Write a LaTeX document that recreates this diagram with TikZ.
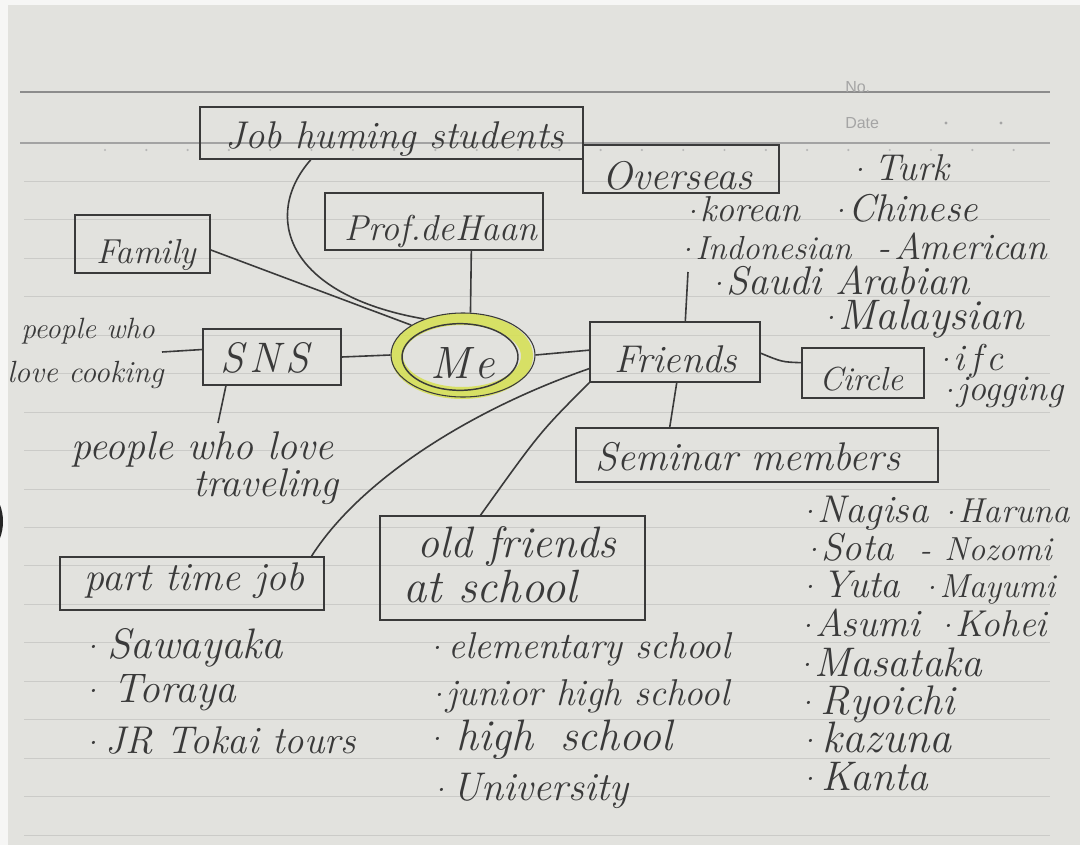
\documentclass[tikz,border=0pt]{standalone}
\usepackage{fontspec}
\setsansfont{Liberation Sans}
\usetikzlibrary{fit,calc,shapes.geometric}
\definecolor{paper}{RGB}{226,226,222}
\definecolor{edgewhite}{RGB}{246,246,245}
\definecolor{rulelight}{RGB}{203,203,200}
\definecolor{ruledark}{RGB}{140,140,140}
\definecolor{pencil}{RGB}{58,58,58}
\definecolor{marker}{RGB}{214,224,88}
\definecolor{printgrey}{RGB}{165,165,165}
\newcommand\bul{\raisebox{0.22em}{\fontsize{24}{24}\selectfont .}\kern2pt}
\begin{document}
\begin{tikzpicture}[x=0.75pt,y=-0.75pt,
  box/.style={draw=pencil,line width=1.2pt,rectangle,inner sep=0pt},
  hand/.style={text=pencil,inner sep=0pt,anchor=base west,font=\fontsize{#1}{#1}\selectfont\itshape},
  hand/.default=29,
  link/.style={draw=pencil,line width=1.2pt},
  printed/.style={text=printgrey,inner sep=0pt,anchor=base west,font=\sffamily\fontsize{12}{12}\selectfont}]
\useasboundingbox (0,0) rectangle (1080,845);
% paper
\fill[edgewhite] (0,0) rectangle (1080,845);
\fill[paper] (8,5) rectangle (1080,845);
\fill[black!85] (0,505) .. controls (4,515) and (4,528) .. (0,538) -- cycle;
\draw[ruledark,line width=0.9pt] (20,92) -- (1050,92);
\draw[ruledark!80,line width=0.8pt] (20,143) -- (1050,143);
\foreach \k in {1,...,18} \draw[rulelight,line width=0.7pt] (24,143+38.45*\k) -- (1050,143+38.45*\k);
\foreach \k in {0,...,22} \fill[printgrey!80] (105+41.3*\k,150) circle (0.9pt);
\node[printed] (no) at (845,93) {No.};
\node[printed] (date) at (845,129) {Date};
\fill[printgrey] (946,123) circle (1.2pt);
\fill[printgrey] (1001,123) circle (1.2pt);

% boxes
\node[box,fit={(200,107)(583,159)}] (job) {};
\node[box,fit={(325,193)(543,250)}] (prof) {};
\node[box,fit={(75,215)(210,273)}] (family) {};
\node[box,fit={(583,145)(779,193)}] (overseas) {};
\node[box,fit={(203,329)(341,385)}] (sns) {};
\node[box,fit={(590,322)(760,382)}] (friends) {};
\node[box,fit={(802,348)(924,398)}] (circle) {};
\node[box,fit={(576,428)(938,482)}] (seminar) {};
\node[box,fit={(380,516)(645,620)}] (old) {};
\node[box,fit={(60,557)(324,610)}] (part) {};

% Me
\draw[marker,line width=9pt,opacity=.9] (462,356) ellipse [x radius=48.75pt,y radius=27.75pt];
\node[ellipse,draw=pencil,line width=0.8pt,minimum width=108pt,minimum height=63pt,inner sep=0pt] (me) at (463,355) {};
\draw[pencil,line width=1.1pt] (460,357) ellipse [x radius=43.5pt,y radius=25pt];
\node[hand=34,anchor=base] (met) at (463,378) {M\kern3pt e};

% box texts
\node[hand] (jobt) at (225,148) {Job huming students};
\node[hand=27] (proft) at (344,240) {Prof.deHaan};
\node[hand=26] (familyt) at (96,263) {Family};
\node[hand=30] (overseast) at (602,189) {Overseas};
\node[hand=32] (snst) at (220,372) {S\kern4pt N\kern4pt S};
\node[hand] (friendst) at (614,372) {Friends};
\node[hand=25] (circlet) at (819,390) {Circle};
\node[hand=30] (seminart) at (595,470) {Seminar members};
\node[hand=33] (old1) at (417,557) {old friends};
\node[hand=35] (old2) at (403,602) {at school};
\node[hand=30] (partt) at (84,590) {part time job};

% overseas list
\node[hand=28] (turk) at (855,180) {\bul\kern5pt Turk};
\node[hand=27] (korean) at (688,221) {\bul korean};
\node[hand] (chinese) at (836,221) {\bul Chinese};
\node[hand=25] (indonesian) at (683,259) {\bul Indonesian};
\node[hand=28] (american) at (877,259) {-\kern3pt American};
\node[hand=30] (saudi) at (714,294) {\bul Saudi Arabian};
\node[hand=32] (malaysian) at (826,329) {\bul Malaysian};

% circle list
\node[hand=28] (ifc) at (941,370) {\bul i\kern4pt f\kern4pt c};
\node[hand=27] (jogging) at (945,400) {\bul jogging};

% SNS texts
\node[hand=22] (cook1) at (21,338) {people who};
\node[hand=23] (cook2) at (7,382) {love cooking};
\node[hand=30] (trav1) at (71,459) {people who love};
\node[hand=30] (trav2) at (193,496) {traveling};

% part time list
\node[hand=32] (sawayaka) at (88,658) {\bul\kern5pt Sawayaka};
\node[hand=31] (toraya) at (88,702) {\bul\kern10pt Toraya};
\node[hand] (jr) at (88,753) {\bul\kern4pt JR Tokai tours};

% school list
\node[hand=28] (elem) at (432,658) {\bul\kern3pt elementary school};
\node[hand=28] (junior) at (434,705) {\bul junior high school};
\node[hand=33] (high) at (432,750) {\bul\kern9pt high\hspace{20pt}school};
\node[hand=30] (univ) at (436,800) {\bul\kern3pt University};

% seminar list
\node[hand] (nagisa) at (805,522) {\bul Nagisa};
\node[hand=26] (haruna) at (946,522) {\bul Haruna};
\node[hand] (sota) at (809,560) {\bul Sota};
\node[hand=25] (nozomi) at (919,560) {-\kern10pt Nozomi};
\node[hand] (yuta) at (805,597) {\bul\kern4pt Yuta};
\node[hand=25] (mayumi) at (927,597) {\bul Mayumi};
\node[hand] (asumi) at (803,636) {\bul Asumi};
\node[hand=28] (kohei) at (943,636) {\bul Kohei};
\node[hand=31] (masataka) at (802,676) {\bul Masataka};
\node[hand=31] (ryoichi) at (803,714) {\bul\kern4pt Ryoichi};
\node[hand=33] (kazuna) at (805,752) {\bul\kern4pt kazuna};
\node[hand=31] (kanta) at (805,790) {\bul\kern3pt Kanta};

% connectors
\coordinate (cookend) at (162,352);
\coordinate (travtop) at (218,423);
\coordinate (ovlist) at (688,272);
\draw[link] ($(job.south west)!0.29!(job.south east)$) .. controls (262,215) and (285,295) .. (me.137);
\draw[link] (family.-5) -- (me.150);
\draw[link] ($(prof.south west)!0.67!(prof.south east)$) -- (me.80);
\draw[link] (sns.east) -- (me.west);
\draw[link] (cookend) -- ($(sns.north west)!0.37!(sns.south west)$);
\draw[link] ($(sns.south west)!0.17!(sns.south east)$) -- (travtop);
\draw[link] (me.east) -- ($(friends.north west)!0.47!(friends.south west)$);
\draw[link] ($(friends.north west)!0.56!(friends.north east)$) -- (ovlist);
\draw[link] ($(friends.north east)!0.52!(friends.south east)$) .. controls (782,362) .. ($(circle.north west)!0.3!(circle.south west)$);
\draw[link] ($(friends.south west)!0.51!(friends.south east)$) -- ($(seminar.north west)!0.26!(seminar.north east)$);
\draw[link] ($(friends.north west)!0.77!(friends.south west)$) .. controls (470,410) and (360,480) .. ($(part.north west)!0.95!(part.north east)$);
\draw[link] (friends.south west) .. controls (540,432) .. ($(old.north west)!0.38!(old.north east)$);
\end{tikzpicture}
\end{document}
